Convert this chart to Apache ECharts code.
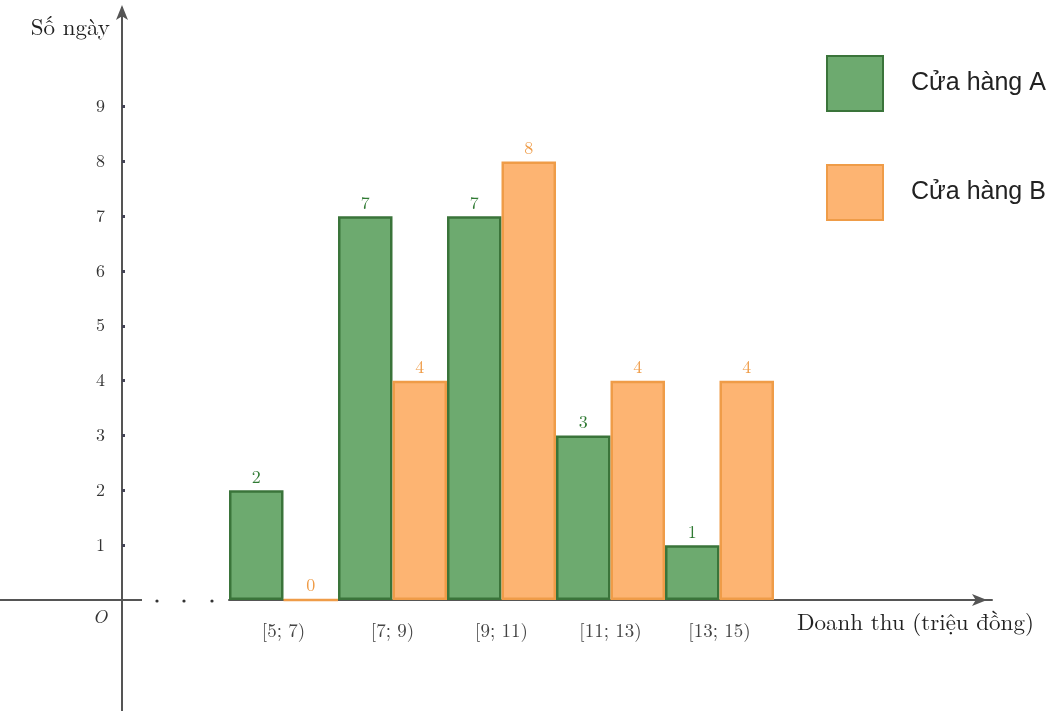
<!DOCTYPE html>
<html>
<head>
<meta charset="utf-8">
<script src="https://cdn.jsdelivr.net/npm/echarts@6/dist/echarts.min.js"></script>
<style>
  html, body { margin: 0; padding: 0; background: #fff; }
  #chart { width: 1057px; height: 711px; }
</style>
</head>
<body>
<div id="chart"></div>
<script>
// Revenue classes (million VND) and number of days for each store
const categories = ['[5; 7)', '[7; 9)', '[9; 11)', '[11; 13)', '[13; 15)', '', ''];
const storeA = [2, 7, 7, 3, 1];
const storeB = [0, 4, 8, 4, 4];
const yTicks = [1, 2, 3, 4, 5, 6, 7, 8, 9];
const seriesNames = ['Cửa hàng A', 'Cửa hàng B'];

const AXIS_X = 122;      // pixel x of the vertical axis
const GRID_LEFT = 229;
const GRID_RIGHT = 65;
const GRID_TOP = 8;
const GRID_BOTTOM = 111;
const Y_MIN = 0, Y_MAX = 10.8;

const GREEN = '#6daa6f', GREEN_EDGE = '#3a743a', GREEN_TEXT = '#2f7a33';
const ORANGE = '#fdb472', ORANGE_EDGE = '#ef9c48', ORANGE_TEXT = '#ef9c48';
const AXIS_COLOR = '#555';
const SERIF = '"Latin Modern Roman", "DejaVu Serif", "Liberation Serif", serif';
const SANS = '"Liberation Sans", Arial, sans-serif';

const chart = echarts.init(document.getElementById('chart'));

function barSeries(name, data, fill, edge, textColor) {
  return {
    name: name,
    type: 'bar',
    data: data,
    barGap: '0%',
    barCategoryGap: '0%',
    itemStyle: { color: fill, borderColor: edge, borderWidth: 2.5 },
    label: {
      show: true,
      position: 'top',
      distance: 4,
      color: textColor,
      fontFamily: SERIF,
      fontSize: 18
    },
    z: 3
  };
}

const option = {
  animation: false,
  backgroundColor: '#fff',
  grid: {
    left: GRID_LEFT, right: GRID_RIGHT, top: GRID_TOP, bottom: GRID_BOTTOM,
    outerBoundsMode: 'none'
  },
  legend: {
    data: seriesNames,
    orient: 'vertical',
    left: 821,
    top: 50,
    itemWidth: 56,
    itemHeight: 55,
    itemGap: 52,
    icon: 'rect',
    textStyle: { fontFamily: SANS, fontSize: 25, color: '#222', padding: [0, 0, 0, 23] }
  },
  xAxis: {
    type: 'category',
    data: categories,
    name: 'Doanh thu (triệu đồng)',
    nameLocation: 'end',
    nameGap: -195,
    nameTextStyle: {
      fontFamily: SERIF, fontSize: 23, color: '#222',
      verticalAlign: 'top', padding: [11, 0, 0, 0]
    },
    axisLine: {
      show: true,
      symbol: ['none', 'arrow'],
      symbolSize: [9, 15],
      symbolOffset: [0, -5],
      lineStyle: { color: AXIS_COLOR, width: 2 }
    },
    axisTick: { show: false },
    axisLabel: {
      margin: 22,
      fontFamily: SERIF,
      fontSize: 19,
      color: '#444'
    },
    splitLine: { show: false }
  },
  yAxis: {
    type: 'value',
    min: Y_MIN,
    max: Y_MAX,
    interval: 1,
    offset: GRID_LEFT - AXIS_X,
    name: 'Số ngày',
    nameLocation: 'end',
    nameGap: -20,
    nameTextStyle: {
      fontFamily: SERIF, fontSize: 23, color: '#222',
      align: 'right', verticalAlign: 'middle', padding: [0, 12, 0, 0]
    },
    axisLine: {
      show: true,
      symbol: ['none', 'arrow'],
      symbolSize: [9, 15],
      symbolOffset: [0, 3],
      lineStyle: { color: AXIS_COLOR, width: 2 }
    },
    axisTick: {
      show: true,
      customValues: yTicks,
      inside: true,
      length: 3,
      lineStyle: { color: '#445', width: 3 }
    },
    axisLabel: {
      customValues: yTicks,
      margin: 17,
      fontFamily: SERIF,
      fontSize: 18,
      color: '#333'
    },
    splitLine: { show: false }
  },
  series: [
    barSeries(seriesNames[0], storeA, GREEN, GREEN_EDGE, GREEN_TEXT),
    barSeries(seriesNames[1], storeB, ORANGE, ORANGE_EDGE, ORANGE_TEXT)
  ]
};

chart.setOption(option);

// Axis break on the left: short stub of the horizontal axis, the vertical
// axis continuing below the origin, the origin label and the dotted gap.
const origin = chart.convertToPixel({ gridIndex: 0 }, [0, 0]);
const y0 = origin[1];
const dotXs = [157, 184, 212];
const extras = [
  {
    type: 'line',
    shape: { x1: 0, y1: y0, x2: AXIS_X + 20, y2: y0 },
    style: { stroke: AXIS_COLOR, lineWidth: 2 },
    z: 10
  },
  {
    type: 'line',
    shape: { x1: AXIS_X, y1: y0, x2: AXIS_X, y2: 711 },
    style: { stroke: AXIS_COLOR, lineWidth: 2 },
    z: 10
  },
  {
    type: 'text',
    x: AXIS_X - 22,
    y: y0 + 17,
    style: {
      text: 'O', fontFamily: SERIF, fontStyle: 'italic', fontSize: 19,
      fill: '#333', align: 'center', verticalAlign: 'middle'
    },
    z: 10
  }
].concat(dotXs.map(function (x) {
  return {
    type: 'circle',
    shape: { cx: x, cy: y0 + 1, r: 1.6 },
    style: { fill: '#333' },
    z: 10
  };
}));
chart.setOption({ graphic: { elements: extras } });
</script>
</body>
</html>
